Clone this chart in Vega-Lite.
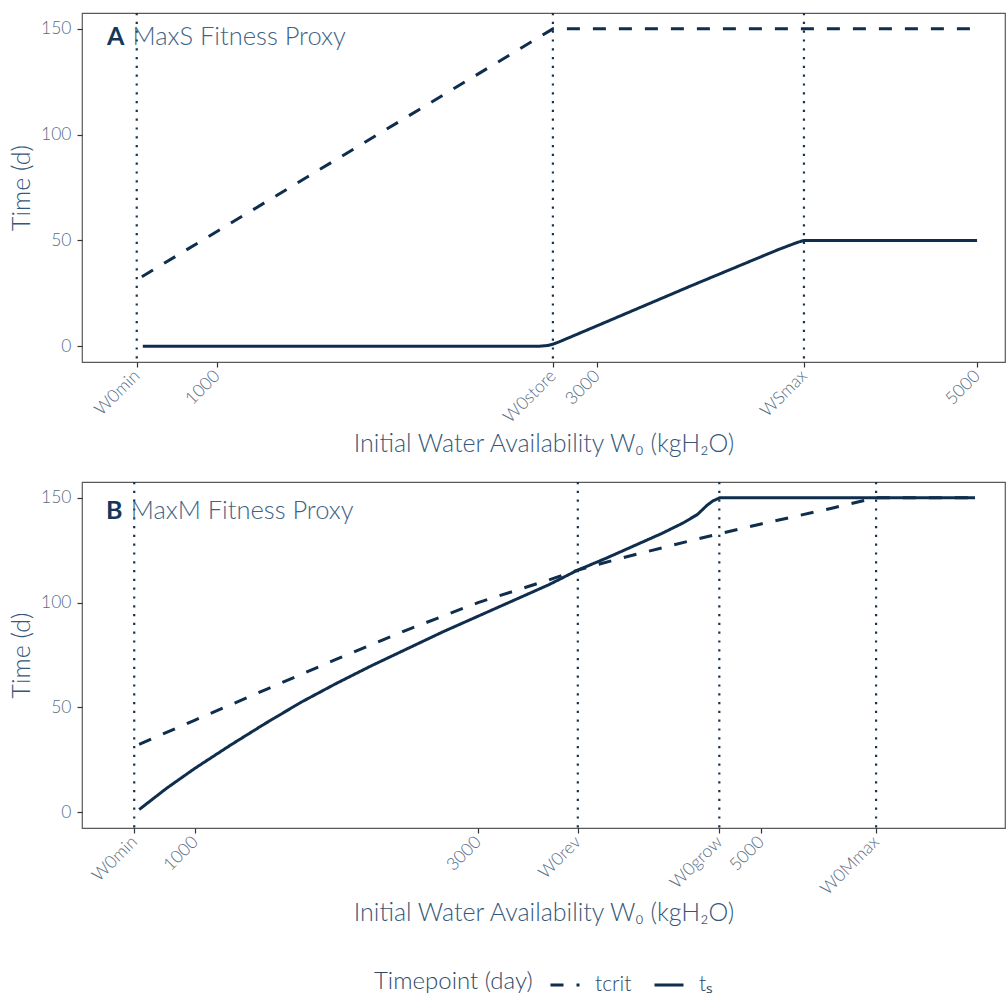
{
  "$schema": "https://vega.github.io/schema/vega-lite/v6.json",
  "padding": {"left": 8, "top": 11, "right": 0, "bottom": 0},
  "background": "white",
  "config": {
    "font": "Lato",
    "view": {"stroke": "#5a5a5a", "strokeWidth": 1.2},
    "axis": {
      "domain": false, "grid": false,
      "tickColor": "#333333", "tickSize": 5, "tickWidth": 1.2,
      "labelFont": "Lato", "labelFontSize": 17.5, "labelFontWeight": 300, "labelColor": "#566d85", "labelPadding": 6,
      "titleFont": "Lato", "titleFontSize": 25, "titleFontWeight": 300, "titleColor": "#36577a", "titlePadding": 6
    },
    "legend": {
      "orient": "bottom", "direction": "horizontal", "titleOrient": "left", "offset": 42,
      "titleFont": "Lato", "titleFontSize": 24, "titleFontWeight": 300, "titleColor": "#2f4a66",
      "labelFont": "Lato", "labelFontSize": 21, "labelFontWeight": 300, "labelColor": "#2f4a66",
      "symbolType": "stroke", "symbolSize": 841, "symbolStrokeWidth": 3, "symbolStrokeColor": "#0f2d4d",
      "labelOffset": 14, "columnPadding": 16, "titlePadding": 16,
      "layout": {"bottom": {"anchor": "middle"}}
    },
    "concat": {"spacing": 22}
  },
  "datasets": {
    "curves": [
      {"panel": "A", "series": "tcrit", "w": 605, "t": 32.8},
      {"panel": "A", "series": "tcrit", "w": 2768, "t": 150},
      {"panel": "A", "series": "tcrit", "w": 5000, "t": 150},
      {"panel": "A", "series": "tₛ", "w": 610, "t": 0},
      {"panel": "A", "series": "tₛ", "w": 2700, "t": 0},
      {"panel": "A", "series": "tₛ", "w": 2740, "t": 0.3},
      {"panel": "A", "series": "tₛ", "w": 2768, "t": 0.9},
      {"panel": "A", "series": "tₛ", "w": 2800, "t": 2},
      {"panel": "A", "series": "tₛ", "w": 3000, "t": 9.6},
      {"panel": "A", "series": "tₛ", "w": 3500, "t": 28.7},
      {"panel": "A", "series": "tₛ", "w": 3950, "t": 45.5},
      {"panel": "A", "series": "tₛ", "w": 4000, "t": 47.2},
      {"panel": "A", "series": "tₛ", "w": 4050, "t": 48.9},
      {"panel": "A", "series": "tₛ", "w": 4089, "t": 50},
      {"panel": "A", "series": "tₛ", "w": 5000, "t": 50},
      {"panel": "B", "series": "tcrit", "w": 605, "t": 32.4},
      {"panel": "B", "series": "tcrit", "w": 1000, "t": 44},
      {"panel": "B", "series": "tcrit", "w": 1500, "t": 58.5},
      {"panel": "B", "series": "tcrit", "w": 2000, "t": 73},
      {"panel": "B", "series": "tcrit", "w": 2500, "t": 87},
      {"panel": "B", "series": "tcrit", "w": 3000, "t": 100},
      {"panel": "B", "series": "tcrit", "w": 3500, "t": 110.8},
      {"panel": "B", "series": "tcrit", "w": 3705, "t": 115.5},
      {"panel": "B", "series": "tcrit", "w": 4000, "t": 121},
      {"panel": "B", "series": "tcrit", "w": 4500, "t": 129.5},
      {"panel": "B", "series": "tcrit", "w": 5000, "t": 137.5},
      {"panel": "B", "series": "tcrit", "w": 5500, "t": 145},
      {"panel": "B", "series": "tcrit", "w": 5813, "t": 150},
      {"panel": "B", "series": "tcrit", "w": 6512, "t": 150},
      {"panel": "B", "series": "tₛ", "w": 605, "t": 1.3},
      {"panel": "B", "series": "tₛ", "w": 800, "t": 11.5},
      {"panel": "B", "series": "tₛ", "w": 1000, "t": 21},
      {"panel": "B", "series": "tₛ", "w": 1250, "t": 32},
      {"panel": "B", "series": "tₛ", "w": 1500, "t": 42.5},
      {"panel": "B", "series": "tₛ", "w": 1750, "t": 52.5},
      {"panel": "B", "series": "tₛ", "w": 2000, "t": 61.5},
      {"panel": "B", "series": "tₛ", "w": 2250, "t": 70},
      {"panel": "B", "series": "tₛ", "w": 2500, "t": 78},
      {"panel": "B", "series": "tₛ", "w": 2750, "t": 86},
      {"panel": "B", "series": "tₛ", "w": 3000, "t": 93.5},
      {"panel": "B", "series": "tₛ", "w": 3250, "t": 101},
      {"panel": "B", "series": "tₛ", "w": 3500, "t": 108.5},
      {"panel": "B", "series": "tₛ", "w": 3705, "t": 115.5},
      {"panel": "B", "series": "tₛ", "w": 3900, "t": 121},
      {"panel": "B", "series": "tₛ", "w": 4100, "t": 127},
      {"panel": "B", "series": "tₛ", "w": 4300, "t": 133},
      {"panel": "B", "series": "tₛ", "w": 4450, "t": 138},
      {"panel": "B", "series": "tₛ", "w": 4550, "t": 142},
      {"panel": "B", "series": "tₛ", "w": 4620, "t": 146.5},
      {"panel": "B", "series": "tₛ", "w": 4660, "t": 148.5},
      {"panel": "B", "series": "tₛ", "w": 4710, "t": 150},
      {"panel": "B", "series": "tₛ", "w": 6512, "t": 150}
    ],
    "markers": [
      {"panel": "A", "name": "W0min", "w": 578},
      {"panel": "A", "name": "W0store", "w": 2768},
      {"panel": "A", "name": "WSmax", "w": 4089},
      {"panel": "B", "name": "W0min", "w": 570},
      {"panel": "B", "name": "W0rev", "w": 3705},
      {"panel": "B", "name": "W0grow", "w": 4705},
      {"panel": "B", "name": "W0Mmax", "w": 5813}
    ],
    "labels": [
      {"panel": "A", "letter": "A", "title": "MaxS Fitness Proxy"},
      {"panel": "B", "letter": "B", "title": "MaxM Fitness Proxy"}
    ]
  },
  "vconcat": [
    {
      "width": 923, "height": 349,
      "layer": [
        {
          "data": {"name": "markers"},
          "transform": [{"filter": "datum.panel == 'A'"}],
          "mark": {"type": "rule", "strokeDash": [2.2, 6.6], "strokeWidth": 2.2, "color": "#16324f"},
          "encoding": {"x": {"field": "w", "type": "quantitative"}}
        },
        {
          "data": {"name": "curves"},
          "transform": [{"filter": "datum.panel == 'A'"}],
          "mark": {"type": "line", "strokeWidth": 3},
          "encoding": {
            "x": {"field": "w", "type": "quantitative",
              "scale": {"domain": [290, 5147], "nice": false, "zero": false},
              "axis": {"title": "Initial Water Availability W₀ (kgH₂O)", "values": [578, 1000, 2768, 3000, 4089, 5000],
                "labelAngle": -45, "labelAlign": "right", "labelBaseline": "middle", "titlePadding": 6,
                "labelExpr": "datum.value == 578 ? 'W0min' : datum.value == 2768 ? 'W0store' : datum.value == 4089 ? 'WSmax' : format(datum.value, 'd')"}},
            "y": {"field": "t", "type": "quantitative",
              "scale": {"domain": [-7.5, 157.5], "nice": false, "zero": false},
              "axis": {"title": "Time (d)", "values": [0, 50, 100, 150]}},
            "color": {"field": "series", "type": "nominal",
              "scale": {"domain": ["tcrit", "tₛ"], "range": ["#0f2d4d", "#0f2d4d"]},
              "legend": {"title": "Timepoint (day)"}},
            "strokeDash": {"field": "series", "type": "nominal",
              "scale": {"domain": ["tcrit", "tₛ"], "range": [[13, 13], [1, 0]]},
              "legend": {"title": "Timepoint (day)"}}
          }
        },
        {
          "data": {"name": "labels"},
          "transform": [{"filter": "datum.panel == 'A'"}],
          "mark": {"type": "text", "font": "Lato", "fontSize": 25, "fontWeight": "bold", "color": "#14385a", "align": "left", "baseline": "alphabetic"},
          "encoding": {"x": {"datum": 421}, "y": {"datum": 142.4}, "text": {"field": "letter"}}
        },
        {
          "data": {"name": "labels"},
          "transform": [{"filter": "datum.panel == 'A'"}],
          "mark": {"type": "text", "font": "Lato", "fontSize": 25.5, "fontWeight": 300, "color": "#3f6384", "align": "left", "baseline": "alphabetic"},
          "encoding": {"x": {"datum": 556}, "y": {"datum": 142.4}, "text": {"field": "title"}}
        }
      ]
    },
    {
      "width": 923, "height": 346,
      "layer": [
        {
          "data": {"name": "markers"},
          "transform": [{"filter": "datum.panel == 'B'"}],
          "mark": {"type": "rule", "strokeDash": [2.2, 6.6], "strokeWidth": 2.2, "color": "#16324f"},
          "encoding": {"x": {"field": "w", "type": "quantitative"}}
        },
        {
          "data": {"name": "curves"},
          "transform": [{"filter": "datum.panel == 'B'"}],
          "mark": {"type": "line", "strokeWidth": 3},
          "encoding": {
            "x": {"field": "w", "type": "quantitative",
              "scale": {"domain": [201, 6724], "nice": false, "zero": false},
              "axis": {"title": "Initial Water Availability W₀ (kgH₂O)", "values": [570, 1000, 3000, 3705, 4705, 5000, 5813],
                "labelAngle": -45, "labelAlign": "right", "labelBaseline": "middle", "titlePadding": 3,
                "labelExpr": "datum.value == 570 ? 'W0min' : datum.value == 3705 ? 'W0rev' : datum.value == 4705 ? 'W0grow' : datum.value == 5813 ? 'W0Mmax' : format(datum.value, 'd')"}},
            "y": {"field": "t", "type": "quantitative",
              "scale": {"domain": [-7.5, 157.5], "nice": false, "zero": false},
              "axis": {"title": "Time (d)", "values": [0, 50, 100, 150]}},
            "color": {"field": "series", "type": "nominal",
              "scale": {"domain": ["tcrit", "tₛ"], "range": ["#0f2d4d", "#0f2d4d"]},
              "legend": {"title": "Timepoint (day)"}},
            "strokeDash": {"field": "series", "type": "nominal",
              "scale": {"domain": ["tcrit", "tₛ"], "range": [[13, 13], [1, 0]]},
              "legend": {"title": "Timepoint (day)"}}
          }
        },
        {
          "data": {"name": "labels"},
          "transform": [{"filter": "datum.panel == 'B'"}],
          "mark": {"type": "text", "font": "Lato", "fontSize": 25, "fontWeight": "bold", "color": "#14385a", "align": "left", "baseline": "alphabetic"},
          "encoding": {"x": {"datum": 371}, "y": {"datum": 140}, "text": {"field": "letter"}}
        },
        {
          "data": {"name": "labels"},
          "transform": [{"filter": "datum.panel == 'B'"}],
          "mark": {"type": "text", "font": "Lato", "fontSize": 25.5, "fontWeight": 300, "color": "#3f6384", "align": "left", "baseline": "alphabetic"},
          "encoding": {"x": {"datum": 546}, "y": {"datum": 140}, "text": {"field": "title"}}
        }
      ]
    }
  ],
  "resolve": {"scale": {"x": "independent", "y": "independent"}}
}
